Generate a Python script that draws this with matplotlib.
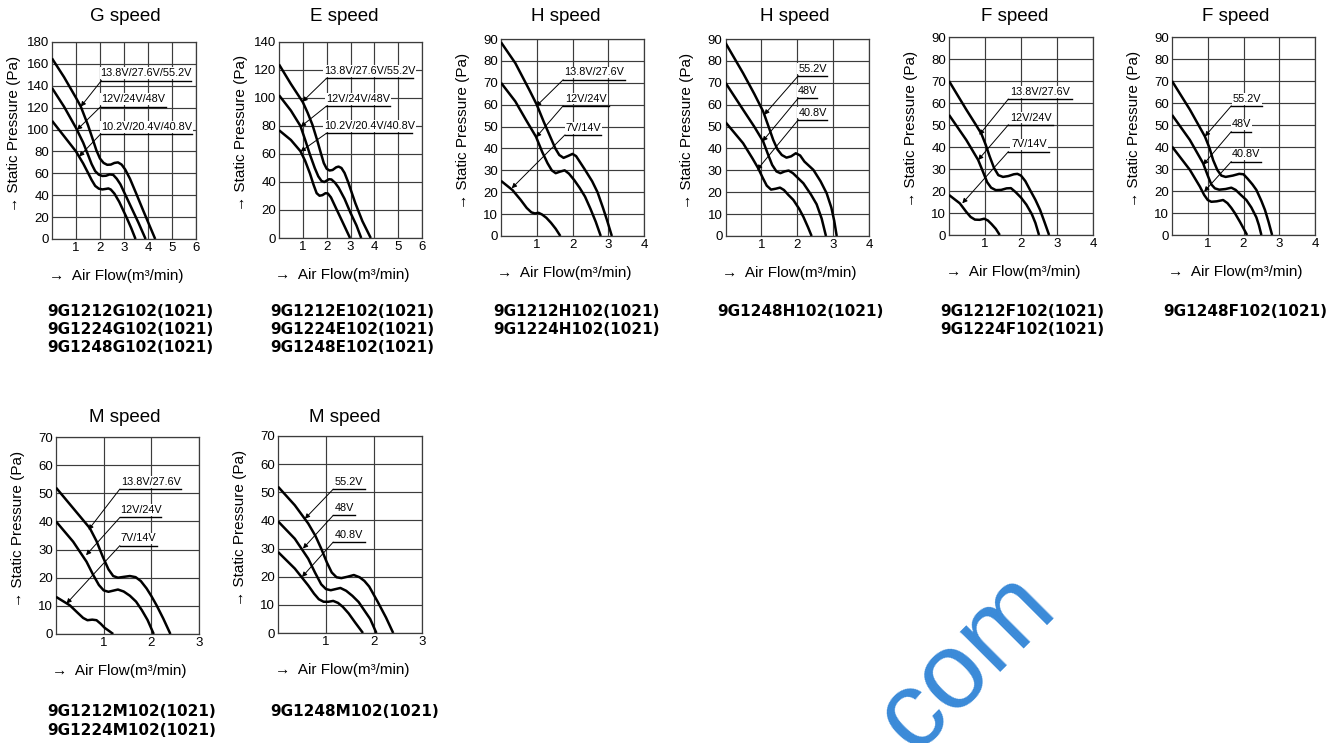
import matplotlib
matplotlib.use("Agg")
import matplotlib.pyplot as plt
from matplotlib import font_manager as fm

# ---------------- data ----------------
# G speed (3 voltages)
G_hi_x = [0, 0.5, 1.0, 1.2, 1.5, 1.7, 1.85, 2.0, 2.15, 2.3, 2.45, 2.6, 2.75, 2.9, 3.05, 3.25, 3.5, 3.8, 4.05, 4.3]
G_hi_y = [165, 148, 129, 121, 104, 91, 81, 73.5, 69.5, 67.8, 68, 69.5, 70, 68, 63.5, 55, 42, 26, 13, 0]
G_md_x = [0, 0.5, 1.0, 1.3, 1.5, 1.65, 1.8, 1.95, 2.1, 2.25, 2.4, 2.55, 2.7, 2.85, 3.0, 3.3, 3.6, 3.9]
G_md_y = [138, 121, 101.5, 88, 77, 68.5, 62, 58.8, 57.6, 57.8, 59, 58.6, 55, 50, 43, 29, 15, 0]
G_lo_x = [0, 0.5, 1.0, 1.3, 1.5, 1.65, 1.8, 1.95, 2.1, 2.25, 2.35, 2.45, 2.6, 2.8, 3.1, 3.3, 3.48]
G_lo_y = [108, 94, 80, 69, 60.5, 54, 48.5, 46, 45.3, 45.8, 46.2, 45.2, 41.5, 34, 20, 10, 0]

# E speed
E_hi_x = [0, 0.5, 1.0, 1.2, 1.4, 1.6, 1.75, 1.88, 2.0, 2.12, 2.25, 2.4, 2.5, 2.62, 2.75, 2.9, 3.2, 3.5, 3.85]
E_hi_y = [124, 110, 97, 89.5, 81, 70, 61, 53.5, 49.5, 48.2, 48.6, 50.5, 51, 50, 46.5, 40, 25, 12, 0]
E_md_x = [0, 0.5, 0.9, 1.1, 1.3, 1.5, 1.65, 1.78, 1.9, 2.0, 2.1, 2.2, 2.35, 2.5, 2.75, 3.0, 3.25, 3.45]
E_md_y = [102, 91, 80, 70, 59.5, 50, 44, 40.8, 40, 41, 42, 41.8, 39.5, 36, 28, 18, 9, 0]
E_lo_x = [0, 0.5, 0.9, 1.1, 1.3, 1.45, 1.58, 1.7, 1.82, 1.95, 2.05, 2.18, 2.4, 2.65, 2.98]
E_lo_y = [77, 70, 62, 55, 46, 38, 32, 30.2, 30.6, 32, 31.8, 29, 21, 12, 0]

# H speed, 9G1212/9G1224
H12_hi_x = [0, 0.4, 0.8, 1.0, 1.2, 1.4, 1.52, 1.63, 1.75, 1.88, 2.0, 2.1, 2.22, 2.34, 2.55, 2.7, 2.85, 2.97, 3.1]
H12_hi_y = [88.5, 79, 66.5, 60, 52, 44.5, 40, 37, 35.7, 36.6, 37.5, 36.5, 33.5, 30.5, 25, 20, 13, 7, 0]
H12_md_x = [0, 0.4, 0.7, 0.98, 1.15, 1.3, 1.42, 1.53, 1.65, 1.78, 1.9, 2.05, 2.2, 2.35, 2.5, 2.65, 2.79]
H12_md_y = [70, 61.5, 53, 45.3, 38.5, 33.3, 30, 28.7, 29.4, 30, 28.5, 25.5, 22, 18, 12.5, 6.5, 0]
H12_lo_x = [0, 0.32, 0.55, 0.72, 0.85, 0.95, 1.05, 1.15, 1.27, 1.4, 1.53, 1.66]
H12_lo_y = [25.2, 21, 16.5, 12.8, 10.8, 10.3, 10.6, 9.8, 8.3, 6, 3.3, 0]

# H speed, 9G1248
H48_hi_x = [0, 0.49, 0.8, 1.05, 1.2, 1.33, 1.45, 1.57, 1.7, 1.83, 1.96, 2.08, 2.2, 2.45, 2.65, 2.82, 2.95, 3.03, 3.1]
H48_hi_y = [88.2, 74.4, 65, 56.9, 50, 43.9, 39.5, 37, 35.8, 36.4, 37.8, 36.8, 34, 30.2, 25, 19.5, 13, 7, 0]
H48_md_x = [0, 0.49, 0.8, 1.05, 1.18, 1.3, 1.42, 1.53, 1.65, 1.76, 1.88, 2.0, 2.17, 2.38, 2.54, 2.68, 2.8]
H48_md_y = [70, 57.7, 50, 43.2, 37.5, 32.5, 29.5, 28.7, 29.5, 29.9, 28.7, 26.8, 24.1, 19, 14.5, 8, 0]
H48_lo_x = [0, 0.49, 0.75, 0.91, 1.04, 1.15, 1.27, 1.4, 1.52, 1.63, 1.75, 1.89, 2.05, 2.17, 2.3, 2.4]
H48_lo_y = [52, 42.4, 35.5, 31, 26.5, 23, 21.2, 21.6, 22.1, 21, 18.8, 16.5, 12.5, 8.8, 4, 0]

# F speed, 9G1212/9G1224
F12_hi_x = [0, 0.48, 0.75, 0.9, 1.02, 1.13, 1.25, 1.37, 1.5, 1.65, 1.8, 1.9, 2.0, 2.12, 2.25, 2.4, 2.53, 2.65, 2.78]
F12_hi_y = [70, 57, 50, 46, 41, 35.7, 30.5, 27.2, 26.4, 26.8, 27.6, 27.8, 27, 24.5, 20.5, 16, 11.4, 6, 0]
F12_md_x = [0, 0.48, 0.81, 0.95, 1.06, 1.17, 1.3, 1.45, 1.6, 1.72, 1.85, 2.0, 2.15, 2.3, 2.4, 2.5]
F12_md_y = [54.6, 43.2, 34.1, 28.5, 24, 21.5, 20.4, 20.5, 21.2, 21.3, 19.5, 17, 13.8, 9.5, 5.5, 0]
F12_lo_x = [0, 0.3, 0.48, 0.6, 0.72, 0.85, 0.98, 1.08, 1.18, 1.3, 1.41]
F12_lo_y = [18.2, 14.4, 10.5, 8.2, 7, 6.9, 7.4, 6.6, 5, 2.8, 0]

# F speed, 9G1248
F48_hi_x = [0, 0.5, 0.92, 1.05, 1.15, 1.27, 1.38, 1.5, 1.7, 1.88, 2.0, 2.12, 2.25, 2.36, 2.5, 2.6, 2.7, 2.8]
F48_hi_y = [70, 57, 44.8, 39.5, 34.1, 29.5, 27, 26.4, 27, 27.8, 27.6, 25.5, 23, 20.5, 15.5, 11.4, 6, 0]
F48_md_x = [0, 0.5, 0.87, 1.0, 1.1, 1.2, 1.32, 1.5, 1.66, 1.78, 1.92, 2.08, 2.22, 2.36, 2.43, 2.5]
F48_md_y = [54.6, 43.2, 32.6, 27, 23, 21.2, 20.6, 20.9, 21.5, 20.5, 18.3, 15.9, 12.5, 8, 4.5, 0]
F48_lo_x = [0, 0.5, 0.78, 0.9, 1.0, 1.1, 1.25, 1.43, 1.55, 1.66, 1.76, 1.9, 2.0, 2.1]
F48_lo_y = [40.2, 29.6, 22, 18.2, 15.9, 15.1, 15.3, 15.9, 14.5, 12.3, 9.9, 6, 3, 0]

# M speed, 9G1212/9G1224
M12_hi_x = [0, 0.36, 0.71, 0.85, 0.98, 1.1, 1.2, 1.3, 1.42, 1.55, 1.67, 1.78, 1.9, 2.0, 2.11, 2.25, 2.4]
M12_hi_y = [52, 44.7, 37.6, 33, 27.5, 23, 20.6, 20, 20.3, 20.6, 20.2, 18.8, 16.2, 13.5, 10.2, 5.5, 0]
M12_md_x = [0, 0.36, 0.64, 0.78, 0.9, 1.0, 1.1, 1.2, 1.3, 1.42, 1.55, 1.68, 1.8, 1.92, 2.05]
M12_md_y = [40, 32.8, 25.7, 21, 17.4, 15.5, 15, 15.4, 15.8, 15.1, 13.6, 11.5, 8.5, 5, 0]
M12_lo_x = [0, 0.29, 0.45, 0.57, 0.66, 0.76, 0.85, 0.94, 1.02, 1.12, 1.2]
M12_lo_y = [13.2, 10.2, 7.6, 5.7, 4.9, 5.1, 4.9, 3.6, 2.2, 1, 0]

# M speed, 9G1248
M48_hi_x = [0, 0.35, 0.63, 0.78, 0.9, 1.02, 1.12, 1.22, 1.32, 1.45, 1.58, 1.7, 1.8, 1.9, 2.08, 2.25, 2.4]
M48_hi_y = [52, 45.4, 38.9, 34.5, 30, 25, 21.5, 19.8, 19.5, 20, 20.6, 19.8, 18.5, 16.5, 11, 5.5, 0]
M48_md_x = [0, 0.35, 0.63, 0.77, 0.9, 1.0, 1.1, 1.2, 1.3, 1.42, 1.55, 1.68, 1.8, 1.92, 2.05]
M48_md_y = [39.7, 33.5, 26.4, 21.5, 17.3, 15.6, 15.2, 15.6, 16, 15, 13.2, 11, 8, 5, 0]
M48_lo_x = [0, 0.35, 0.63, 0.75, 0.85, 0.95, 1.05, 1.15, 1.25, 1.35, 1.47, 1.6, 1.77]
M48_lo_y = [28.8, 22.9, 16.9, 14, 12, 11.1, 11.1, 11.4, 10.7, 9.3, 7, 3.9, 0]

# voltage labels: (text, underline x0, underline x1, underline y, arrow tip x, arrow tip y)
G_labels = [("13.8V/27.6V/55.2V", 2.06, 5.78, 144.8, 1.2, 121),
            ("12V/24V/48V", 2.03, 4.75, 121, 1.04, 99.7),
            ("10.2V/20.4V/40.8V", 2.03, 5.82, 96, 1.13, 75.3)]
E_labels = [("13.8V/27.6V/55.2V", 1.99, 5.62, 114, 0.98, 97.3),
            ("12V/24V/48V", 1.99, 4.64, 94.2, 0.91, 79.5),
            ("10.2V/20.4V/40.8V", 1.99, 5.6, 74.8, 0.9, 61.7)]
H12_labels = [("13.8V/27.6V", 1.74, 3.46, 71.4, 0.98, 59.2),
              ("12V/24V", 1.74, 3.02, 59.5, 0.98, 45.1),
              ("7V/14V", 1.79, 2.81, 46.2, 0.3, 21.8)]
H48_labels = [("55.2V", 2.03, 2.82, 73.2, 1.08, 55.4),
              ("48V", 2.03, 2.54, 63, 1.03, 43.2),
              ("40.8V", 2.03, 2.82, 53.1, 0.88, 30.2)]
F12_labels = [("13.8V/27.6V", 1.65, 3.41, 61.8, 0.84, 45.5),
              ("12V/24V", 1.65, 2.9, 50.1, 0.81, 34.1),
              ("7V/14V", 1.65, 2.79, 37.9, 0.37, 14.4)]
F48_labels = [("55.2V", 1.66, 2.53, 58.7, 0.92, 44.8),
              ("48V", 1.66, 2.22, 47, 0.87, 31.9),
              ("40.8V", 1.66, 2.5, 33.4, 0.9, 19.7)]
M12_labels = [("13.8V/27.6V", 1.34, 2.63, 51.5, 0.68, 37),
              ("12V/24V", 1.34, 2.21, 41.4, 0.63, 28),
              ("7V/14V", 1.34, 2.11, 31.4, 0.22, 10.8)]
M48_labels = [("55.2V", 1.15, 1.81, 51.1, 0.56, 40.6),
              ("48V", 1.15, 1.6, 41.8, 0.52, 30),
              ("40.8V", 1.15, 1.81, 32.3, 0.5, 19.9)]

G_models = ["9G1212G102(1021)", "9G1224G102(1021)", "9G1248G102(1021)"]
E_models = ["9G1212E102(1021)", "9G1224E102(1021)", "9G1248E102(1021)"]
H12_models = ["9G1212H102(1021)", "9G1224H102(1021)"]
H48_models = ["9G1248H102(1021)"]
F12_models = ["9G1212F102(1021)", "9G1224F102(1021)"]
F48_models = ["9G1248F102(1021)"]
M12_models = ["9G1212M102(1021)", "9G1224M102(1021)"]
M48_models = ["9G1248M102(1021)"]

titles = ["G speed", "E speed", "H speed", "H speed", "F speed", "F speed", "M speed", "M speed"]
x_max = [6, 6, 4, 4, 4, 4, 3, 3]
y_max = [180, 140, 90, 90, 90, 90, 70, 70]
y_step = [20, 20, 10, 10, 10, 10, 10, 10]
y_label = "Static Pressure (Pa)"
x_label = "Air Flow(m³/min)"

# ---------------- layout ----------------
W, H = 1339, 743
fig = plt.figure(figsize=(W / 100, H / 100), dpi=100)
fig.patch.set_facecolor("white")

names = {f.name for f in fm.fontManager.ttflist}
BASE = ["Liberation Sans", "DejaVu Sans"]
if "Liberation Sans Narrow" in names:
    LAB_FONT, LAB_SIZE = ["Liberation Sans Narrow", "DejaVu Sans"], 8.8
else:
    LAB_FONT, LAB_SIZE = ["Liberation Sans", "DejaVu Sans"], 7.8

GRID_C = "#3c3c3c"

# pixel boxes: left, top, right, bottom
boxes = [(52, 42, 196, 239), (279, 42, 422, 238), (501, 39, 644, 236), (725.5, 39, 869, 236),
         (949, 37, 1093, 235), (1172, 37, 1315, 235), (56, 437, 199, 634), (278, 436, 422, 633)]
title_x = [125, 344, 566, 795, 1015, 1236, 125, 345]
title_base = [20.7, 20.7, 20.7, 20.7, 20.7, 20.7, 421.7, 421.7]
model_x = [47, 270, 493, 717, 940, 1163, 47, 270]
model_y = [311, 311, 311, 311, 311, 311, 712, 712]

curves = [
    [(G_hi_x, G_hi_y), (G_md_x, G_md_y), (G_lo_x, G_lo_y)],
    [(E_hi_x, E_hi_y), (E_md_x, E_md_y), (E_lo_x, E_lo_y)],
    [(H12_hi_x, H12_hi_y), (H12_md_x, H12_md_y), (H12_lo_x, H12_lo_y)],
    [(H48_hi_x, H48_hi_y), (H48_md_x, H48_md_y), (H48_lo_x, H48_lo_y)],
    [(F12_hi_x, F12_hi_y), (F12_md_x, F12_md_y), (F12_lo_x, F12_lo_y)],
    [(F48_hi_x, F48_hi_y), (F48_md_x, F48_md_y), (F48_lo_x, F48_lo_y)],
    [(M12_hi_x, M12_hi_y), (M12_md_x, M12_md_y), (M12_lo_x, M12_lo_y)],
    [(M48_hi_x, M48_hi_y), (M48_md_x, M48_md_y), (M48_lo_x, M48_lo_y)],
]
labels = [G_labels, E_labels, H12_labels, H48_labels, F12_labels, F48_labels, M12_labels, M48_labels]
models = [G_models, E_models, H12_models, H48_models, F12_models, F48_models, M12_models, M48_models]


def fx(px):
    return px / W


def fy(py):
    return 1 - py / H


for i in range(8):
    l, t, r, b = boxes[i]
    ax = fig.add_axes([fx(l), fy(b), (r - l) / W, (b - t) / H])
    ax.set_xlim(0, x_max[i])
    ax.set_ylim(0, y_max[i])
    ax.set_xticks(range(1, x_max[i] + 1))
    ax.set_yticks(range(0, y_max[i] + 1, y_step[i]))
    ax.tick_params(length=0, labelsize=9.5, pad=2.2, colors="black")
    for lab in ax.get_xticklabels() + ax.get_yticklabels():
        lab.set_fontfamily(BASE)
    ax.set_axisbelow(True)
    ax.grid(True, color=GRID_C, lw=0.85)
    for s in ax.spines.values():
        s.set_color(GRID_C)
        s.set_linewidth(0.9)

    for cx, cy in curves[i]:
        ax.plot(cx, cy, color="black", lw=1.8, solid_capstyle="butt",
                solid_joinstyle="round", zorder=3)

    for txt, x0, x1, yu, tx, ty in labels[i]:
        ax.plot([x0, x1], [yu, yu], color="black", lw=1.0, zorder=5)
        ax.annotate("", xy=(tx, ty), xytext=(x0, yu),
                    arrowprops=dict(arrowstyle="-|>", mutation_scale=7, lw=0.7,
                                    color="black", shrinkA=0, shrinkB=0), zorder=5)
        ax.annotate(txt, xy=((x0 + x1) / 2, yu), xytext=(0, 1.6), textcoords="offset points",
                    ha="center", va="bottom", fontsize=LAB_SIZE, family=LAB_FONT,
                    bbox=dict(boxstyle="square,pad=0.08", fc="white", ec="none"), zorder=4)

    # titles
    fig.text(fx(title_x[i]), fy(title_base[i]), titles[i], ha="center", va="baseline",
             fontsize=13.5, family=BASE)
    # axis labels
    fig.text(fx(l - 38), fy((t + b) / 2 - 7), "→ " + y_label, rotation=90,
             ha="center", va="center", fontsize=11, family=BASE)
    fig.text(fx(l + 0.445 * (r - l)), fy(b + 37), "→  " + x_label,
             ha="center", va="center", fontsize=11, family=BASE)
    # model names
    for k, m in enumerate(models[i]):
        fig.text(fx(model_x[i]), fy(model_y[i] + 18.3 * k), m, ha="left", va="center",
                 fontsize=11, fontweight="bold", family="DejaVu Sans")

# watermark (partly cut by the lower edge, as in the reference)
fig.text(fx(966), fy(662), "com", rotation=45, ha="center", va="center",
         rotation_mode="anchor", fontsize=78, color="#3a8ad8", family=BASE)

fig.savefig("out.png", dpi=100, facecolor="white")
